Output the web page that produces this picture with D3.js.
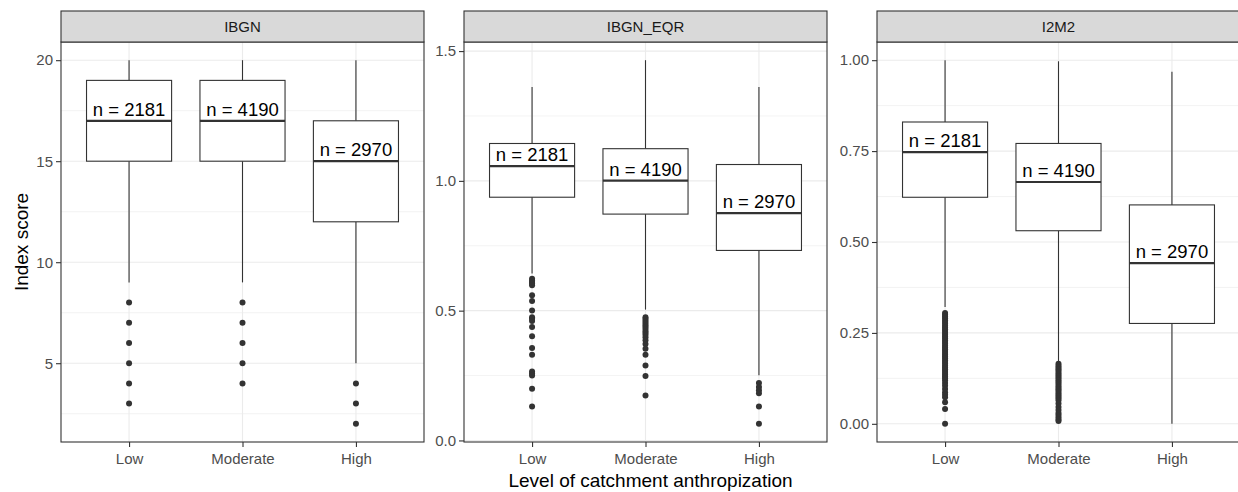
<!DOCTYPE html>
<html>
<head>
<meta charset="utf-8">
<script src="https://cdn.jsdelivr.net/npm/d3@7"></script>
<style>
  html, body { margin: 0; padding: 0; background: #fff; }
  svg { display: block; font-family: "Liberation Sans", Arial, sans-serif; }
</style>
</head>
<body>
<svg id="chart" width="1238" height="492"></svg>
<script>
// ---------------- data ----------------
const categories = ["Low", "Moderate", "High"];
const indexNames = ["IBGN", "IBGN_EQR", "I2M2"];
const counts = [2181, 4190, 2970];

// box stats per category: [lower whisker, Q1, median, Q3, upper whisker]
const ibgnStats = [[9, 15, 17, 19, 20], [9, 15, 17, 19, 20], [5, 12, 15, 17, 20]];
const eqrStats = [[0.643, 0.937, 1.057, 1.144, 1.362], [0.504, 0.872, 1.001, 1.124, 1.465], [0.251, 0.732, 0.876, 1.063, 1.362]];
const i2m2Stats = [[0.321, 0.623, 0.747, 0.830, 1.0], [0.171, 0.531, 0.665, 0.771, 0.997], [0.0, 0.276, 0.442, 0.602, 0.968]];

// outliers per category
const ibgnOutliers = [[8, 7, 6, 5, 4, 3], [8, 7, 6, 5, 4], [4, 3, 2]];
const eqrOutliers = [
  [0.623, 0.615, 0.61, 0.605, 0.598, 0.559, 0.537, 0.501, 0.475, 0.469, 0.46, 0.437, 0.401, 0.356, 0.33, 0.266, 0.258, 0.25, 0.199, 0.131],
  [0.475, 0.468, 0.46, 0.452, 0.445, 0.438, 0.43, 0.422, 0.415, 0.407, 0.398, 0.386, 0.372, 0.353, 0.33, 0.289, 0.248, 0.173],
  [0.221, 0.206, 0.193, 0.182, 0.131, 0.064]
];
const i2m2Outliers = [
  [0.305, 0.3, 0.295, 0.29, 0.285, 0.28, 0.275, 0.27, 0.265, 0.26, 0.255, 0.25, 0.245, 0.24, 0.235, 0.23, 0.225, 0.22, 0.215, 0.21,
   0.205, 0.2, 0.195, 0.19, 0.185, 0.18, 0.175, 0.17, 0.165, 0.16, 0.155, 0.15, 0.145, 0.14, 0.135, 0.13, 0.125, 0.12,
   0.112, 0.105, 0.096, 0.087, 0.08, 0.073, 0.059, 0.041, 0.0],
  [0.165, 0.16, 0.155, 0.15, 0.145, 0.14, 0.135, 0.13, 0.125, 0.12, 0.115, 0.11, 0.105, 0.1, 0.095, 0.09, 0.085, 0.08, 0.075, 0.07, 0.065,
   0.056, 0.046, 0.038, 0.03, 0.024, 0.018, 0.012, 0.008],
  []
];

// axis limits and ticks
const ibgnDomain = [1.1, 20.9];
const eqrDomain = [-0.006, 1.535];
const i2m2Domain = [-0.05, 1.05];
const ibgnTicks = [5, 10, 15, 20];
const eqrTicks = [0, 0.5, 1.0, 1.5];
const i2m2Ticks = [0, 0.25, 0.5, 0.75, 1.0];
const ibgnTickLabels = ["5", "10", "15", "20"];
const eqrTickLabels = ["0.0", "0.5", "1.0", "1.5"];
const i2m2TickLabels = ["0.00", "0.25", "0.50", "0.75", "1.00"];
const ibgnMinor = [2.5, 7.5, 12.5, 17.5];
const eqrMinor = [0.25, 0.75, 1.25];
const i2m2Minor = [0.125, 0.375, 0.625, 0.875];

const xTitle = "Level of catchment anthropization";
const yTitle = "Index score";

// ---------------- layout ----------------
const panelLefts = [61, 464, 877];
const panelWidth = 363;
const panelTop = 42, panelBottom = 442;
const stripTop = 11;

const panels = [
  { name: indexNames[0], stats: ibgnStats, outliers: ibgnOutliers, domain: ibgnDomain, ticks: ibgnTicks, labels: ibgnTickLabels, minor: ibgnMinor },
  { name: indexNames[1], stats: eqrStats, outliers: eqrOutliers, domain: eqrDomain, ticks: eqrTicks, labels: eqrTickLabels, minor: eqrMinor },
  { name: indexNames[2], stats: i2m2Stats, outliers: i2m2Outliers, domain: i2m2Domain, ticks: i2m2Ticks, labels: i2m2TickLabels, minor: i2m2Minor }
];

const svg = d3.select("#chart");
const dark = "#333333";

panels.forEach((p, pi) => {
  const left = panelLefts[pi], right = left + panelWidth;
  const x = d3.scaleLinear().domain([0.4, 3.6]).range([left, right]);
  const y = d3.scaleLinear().domain(p.domain).range([panelBottom, panelTop]);
  const bw = x(0.75) - x(0);
  const g = svg.append("g");

  // background grid
  g.selectAll(".minor").data(p.minor).enter().append("line")
    .attr("x1", left).attr("x2", right)
    .attr("y1", d => y(d)).attr("y2", d => y(d))
    .attr("stroke", "#EBEBEB").attr("stroke-width", 0.6);
  g.selectAll(".major").data(p.ticks).enter().append("line")
    .attr("x1", left).attr("x2", right)
    .attr("y1", d => y(d)).attr("y2", d => y(d))
    .attr("stroke", "#EBEBEB").attr("stroke-width", 1.1);
  g.selectAll(".vmajor").data(categories).enter().append("line")
    .attr("x1", (d, i) => x(i + 1)).attr("x2", (d, i) => x(i + 1))
    .attr("y1", panelTop).attr("y2", panelBottom)
    .attr("stroke", "#EBEBEB").attr("stroke-width", 1.1);

  categories.forEach((c, ci) => {
    const s = p.stats[ci];
    const cx = x(ci + 1);
    // whiskers
    g.append("line").attr("x1", cx).attr("x2", cx).attr("y1", y(s[4])).attr("y2", y(s[3]))
      .attr("stroke", dark).attr("stroke-width", 1.1);
    g.append("line").attr("x1", cx).attr("x2", cx).attr("y1", y(s[1])).attr("y2", y(s[0]))
      .attr("stroke", dark).attr("stroke-width", 1.1);
    // box
    g.append("rect").attr("x", cx - bw / 2).attr("width", bw)
      .attr("y", y(s[3])).attr("height", y(s[1]) - y(s[3]))
      .attr("fill", "#fff").attr("stroke", dark).attr("stroke-width", 1.1);
    // median
    g.append("line").attr("x1", cx - bw / 2).attr("x2", cx + bw / 2)
      .attr("y1", y(s[2])).attr("y2", y(s[2]))
      .attr("stroke", dark).attr("stroke-width", 2.2);
    // outliers
    g.selectAll(null).data(p.outliers[ci]).enter().append("circle")
      .attr("cx", cx).attr("cy", d => y(d)).attr("r", 3)
      .attr("fill", dark);
    // n label
    g.append("text").attr("x", cx).attr("y", y(s[2]) - 5)
      .attr("text-anchor", "middle").attr("font-size", "18.5px").attr("fill", "#000")
      .text("n = " + counts[ci]);
  });

  // panel border
  g.append("rect").attr("x", left).attr("y", panelTop).attr("width", panelWidth).attr("height", panelBottom - panelTop)
    .attr("fill", "none").attr("stroke", dark).attr("stroke-width", 1.1);

  // strip
  g.append("rect").attr("x", left).attr("y", stripTop).attr("width", panelWidth).attr("height", panelTop - stripTop)
    .attr("fill", "#D9D9D9").attr("stroke", dark).attr("stroke-width", 1.1);
  g.append("text").attr("x", (left + right) / 2).attr("y", (stripTop + panelTop) / 2 + 5.5)
    .attr("text-anchor", "middle").attr("font-size", "15px").attr("fill", "#1A1A1A")
    .text(p.name);

  // y axis
  const yAxis = d3.axisLeft(y).tickValues(p.ticks).tickFormat((d, i) => p.labels[i]).tickSize(5).tickPadding(3);
  const ya = svg.append("g").attr("transform", `translate(${left},0)`).call(yAxis);
  ya.select(".domain").remove();
  ya.selectAll("line").attr("stroke", dark).attr("stroke-width", 1.1);
  ya.selectAll("text").attr("fill", "#4D4D4D").attr("font-size", "15px").attr("font-family", "Liberation Sans, Arial, sans-serif");

  // x axis
  const xb = d3.scalePoint().domain(categories).range([x(1), x(3)]);
  const xAxis = d3.axisBottom(xb).tickSize(5).tickPadding(6);
  const xa = svg.append("g").attr("transform", `translate(0,${panelBottom})`).call(xAxis);
  xa.select(".domain").remove();
  xa.selectAll("line").attr("stroke", dark).attr("stroke-width", 1.1);
  xa.selectAll("text").attr("fill", "#4D4D4D").attr("font-size", "15px").attr("font-family", "Liberation Sans, Arial, sans-serif");
});

// axis titles
svg.append("text").attr("transform", `translate(28,${(panelTop + panelBottom) / 2}) rotate(-90)`)
  .attr("text-anchor", "middle").attr("font-size", "19px").attr("fill", "#000").text(yTitle);
svg.append("text").attr("x", (panelLefts[0] + panelLefts[2] + panelWidth) / 2).attr("y", 487)
  .attr("text-anchor", "middle").attr("font-size", "19px").attr("fill", "#000").text(xTitle);
</script>
</body>
</html>
